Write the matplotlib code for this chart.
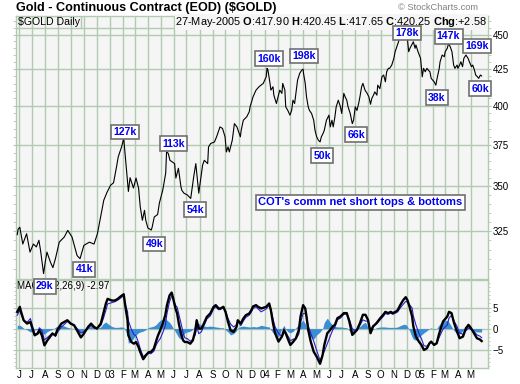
import numpy as np
import pandas as pd
import matplotlib
matplotlib.use('Agg')
import matplotlib.pyplot as plt
import matplotlib.dates as mdates
from matplotlib.ticker import FixedLocator, NullFormatter, FuncFormatter

plt.rcParams['font.family'] = ['Liberation Sans', 'DejaVu Sans']
plt.rcParams['mathtext.fontset'] = 'custom'
plt.rcParams['mathtext.rm'] = 'Liberation Sans'
plt.rcParams['mathtext.bf'] = 'Liberation Sans:bold'

# gold close
price_dates = [
    '2002-05-28', '2002-05-30', '2002-06-03', '2002-06-10', '2002-06-19', '2002-06-27',
    '2002-07-05', '2002-07-12', '2002-07-18', '2002-07-22', '2002-07-29', '2002-08-02',
    '2002-08-06', '2002-08-14', '2002-08-20', '2002-08-26', '2002-09-04', '2002-09-16',
    '2002-09-24', '2002-10-04', '2002-10-16', '2002-10-23', '2002-11-01', '2002-11-14',
    '2002-11-25', '2002-12-03', '2002-12-12', '2002-12-18', '2002-12-26', '2003-01-03',
    '2003-01-10', '2003-01-17', '2003-01-21', '2003-01-24', '2003-01-29', '2003-02-03',
    '2003-02-07', '2003-02-11', '2003-02-14', '2003-02-18', '2003-02-26', '2003-03-04',
    '2003-03-10', '2003-03-14', '2003-03-19', '2003-03-24', '2003-03-27', '2003-04-01',
    '2003-04-09', '2003-04-11', '2003-04-16', '2003-04-24', '2003-04-28', '2003-05-06',
    '2003-05-09', '2003-05-13', '2003-05-15', '2003-05-19', '2003-05-23', '2003-06-03',
    '2003-06-06', '2003-06-12', '2003-06-18', '2003-06-20', '2003-06-25', '2003-07-03',
    '2003-07-11', '2003-07-18', '2003-07-23', '2003-07-30', '2003-08-08', '2003-08-12',
    '2003-08-20', '2003-08-22', '2003-08-27', '2003-09-05', '2003-09-10', '2003-09-18',
    '2003-09-24', '2003-09-30', '2003-10-03', '2003-10-07', '2003-10-10', '2003-10-17',
    '2003-10-22', '2003-10-28', '2003-11-05', '2003-11-07', '2003-11-12', '2003-11-20',
    '2003-11-26', '2003-11-28', '2003-12-05', '2003-12-12', '2003-12-19', '2003-12-29',
    '2004-01-05', '2004-01-07', '2004-01-09', '2004-01-14', '2004-01-16', '2004-01-21',
    '2004-01-23', '2004-01-29', '2004-02-06', '2004-02-11', '2004-02-13', '2004-02-18',
    '2004-02-20', '2004-02-25', '2004-03-01', '2004-03-05', '2004-03-08', '2004-03-12',
    '2004-03-19', '2004-03-24', '2004-03-29', '2004-04-01', '2004-04-02', '2004-04-06',
    '2004-04-09', '2004-04-13', '2004-04-16', '2004-04-21', '2004-04-26', '2004-04-29',
    '2004-05-03', '2004-05-07', '2004-05-11', '2004-05-14', '2004-05-18', '2004-05-21',
    '2004-05-26', '2004-06-01', '2004-06-04', '2004-06-08', '2004-06-11', '2004-06-15',
    '2004-06-18', '2004-06-23', '2004-06-28', '2004-07-01', '2004-07-06', '2004-07-09',
    '2004-07-13', '2004-07-16', '2004-07-21', '2004-07-26', '2004-07-29', '2004-08-02',
    '2004-08-06', '2004-08-10', '2004-08-13', '2004-08-17', '2004-08-20', '2004-08-25',
    '2004-08-30', '2004-09-03', '2004-09-07', '2004-09-10', '2004-09-14', '2004-09-17',
    '2004-09-22', '2004-09-24', '2004-09-29', '2004-10-04', '2004-10-08', '2004-10-12',
    '2004-10-15', '2004-10-19', '2004-10-22', '2004-10-27', '2004-11-01', '2004-11-04',
    '2004-11-08', '2004-11-12', '2004-11-16', '2004-11-19', '2004-11-24', '2004-12-02',
    '2004-12-06', '2004-12-09', '2004-12-13', '2004-12-17', '2004-12-21', '2004-12-23',
    '2004-12-28', '2005-01-03', '2005-01-07', '2005-01-10', '2005-01-14', '2005-01-18',
    '2005-01-21', '2005-01-25', '2005-01-28', '2005-02-04', '2005-02-08', '2005-02-11',
    '2005-02-16', '2005-02-18', '2005-02-23', '2005-02-28', '2005-03-02', '2005-03-07',
    '2005-03-10', '2005-03-14', '2005-03-18', '2005-03-22', '2005-03-25', '2005-03-30',
    '2005-04-01', '2005-04-05', '2005-04-08', '2005-04-12', '2005-04-15', '2005-04-20',
    '2005-04-25', '2005-04-28', '2005-05-03', '2005-05-06', '2005-05-10', '2005-05-13',
    '2005-05-17', '2005-05-20', '2005-05-24', '2005-05-27']
price_close = [
    323.0, 326.0, 327.0, 318.0, 323.5, 313.8,
    318.0, 316.5, 320.0, 314.5, 302.8, 308.7,
    313.8, 308.7, 305.8, 310.4, 319.0, 321.8,
    325.3, 321.8, 312.0, 310.4, 317.3, 319.0,
    318.0, 323.5, 334.5, 342.0, 346.7, 350.6,
    352.0, 361.4, 367.4, 369.8, 373.6, 379.0,
    367.4, 355.5, 347.0, 355.0, 349.0, 354.8,
    349.0, 338.2, 330.8, 336.3, 330.8, 326.6,
    325.5, 327.0, 332.6, 334.0, 340.3, 347.7,
    352.0, 357.7, 370.5, 369.6, 365.4, 363.4,
    354.8, 360.6, 349.6, 347.7, 346.0, 345.0,
    343.0, 355.5, 363.4, 346.0, 362.5, 365.4,
    363.4, 373.6, 375.7, 376.7, 379.9, 386.2,
    385.2, 379.9, 370.5, 373.6, 370.5, 377.8,
    388.3, 386.2, 379.9, 384.1, 390.5, 392.7,
    396.0, 399.3, 406.0, 410.5, 412.8, 415.1,
    419.7, 425.6, 424.4, 415.1, 410.5, 412.8,
    407.1, 401.5, 410.5, 408.3, 415.1, 410.5,
    399.3, 396.9, 393.8, 396.9, 403.7, 401.5,
    417.4, 422.1, 424.4, 425.0, 422.1, 415.1,
    406.0, 399.3, 396.9, 394.9, 390.5, 384.1,
    379.9, 377.8, 376.7, 379.9, 382.0, 384.1,
    390.5, 393.8, 386.2, 390.5, 386.2, 392.7,
    399.3, 403.7, 399.3, 394.9, 408.3, 406.0,
    403.7, 399.3, 395.0, 388.3, 390.5, 399.3,
    396.9, 401.5, 406.0, 412.8, 415.1, 410.5,
    408.3, 406.0, 401.0, 404.9, 407.1, 409.3,
    407.1, 413.9, 411.5, 419.7, 420.9, 416.2,
    423.2, 425.6, 425.6, 427.9, 432.7, 437.5,
    441.1, 444.8, 449.8, 454.8, 452.6, 449.8,
    437.5, 440.0, 442.4, 444.8, 440.0, 442.4,
    437.5, 432.7, 419.7, 425.6, 423.2, 425.6,
    424.4, 423.2, 418.6, 416.2, 413.9, 418.6,
    425.6, 430.3, 435.1, 433.9, 437.5, 440.0,
    443.6, 441.1, 437.5, 427.9, 425.6, 427.9,
    425.6, 427.9, 430.3, 426.8, 432.7, 435.1,
    432.7, 430.3, 426.8, 427.9, 424.4, 420.9,
    419.7, 418.6, 420.9, 420.25]

# MACD(12,26,9) line and histogram
macd_dates = [
    '2002-05-28', '2002-06-03', '2002-06-06', '2002-06-12', '2002-06-20', '2002-06-28',
    '2002-07-04', '2002-07-08', '2002-07-15', '2002-07-19', '2002-07-25', '2002-07-31',
    '2002-08-07', '2002-08-13', '2002-08-19', '2002-08-26', '2002-08-30', '2002-09-09',
    '2002-09-16', '2002-09-23', '2002-10-01', '2002-10-09', '2002-10-18', '2002-10-25',
    '2002-11-01', '2002-11-11', '2002-11-18', '2002-11-25', '2002-12-02', '2002-12-11',
    '2002-12-17', '2002-12-23', '2002-12-27', '2003-01-06', '2003-01-13', '2003-01-20',
    '2003-01-27', '2003-02-03', '2003-02-07', '2003-02-12', '2003-02-14', '2003-02-21',
    '2003-02-27', '2003-03-04', '2003-03-10', '2003-03-14', '2003-03-21', '2003-03-28',
    '2003-04-03', '2003-04-08', '2003-04-15', '2003-04-21', '2003-04-25', '2003-04-30',
    '2003-05-06', '2003-05-12', '2003-05-16', '2003-05-22', '2003-05-27', '2003-05-30',
    '2003-06-05', '2003-06-09', '2003-06-13', '2003-06-18', '2003-06-23', '2003-06-27',
    '2003-07-03', '2003-07-10', '2003-07-16', '2003-07-22', '2003-07-25', '2003-07-30',
    '2003-08-05', '2003-08-11', '2003-08-18', '2003-08-26', '2003-09-03', '2003-09-08',
    '2003-09-15', '2003-09-19', '2003-09-26', '2003-10-01', '2003-10-07', '2003-10-13',
    '2003-10-20', '2003-10-27', '2003-10-30', '2003-11-06', '2003-11-12', '2003-11-18',
    '2003-11-26', '2003-12-01', '2003-12-05', '2003-12-12', '2003-12-17', '2003-12-24',
    '2004-01-05', '2004-01-12', '2004-01-16', '2004-01-21', '2004-01-26', '2004-02-03',
    '2004-02-11', '2004-02-16', '2004-02-20', '2004-02-26', '2004-03-02', '2004-03-09',
    '2004-03-15', '2004-03-22', '2004-03-26', '2004-04-01', '2004-04-06', '2004-04-09',
    '2004-04-13', '2004-04-19', '2004-04-26', '2004-05-03', '2004-05-11', '2004-05-17',
    '2004-05-21', '2004-05-28', '2004-06-04', '2004-06-10', '2004-06-15', '2004-06-21',
    '2004-06-28', '2004-07-06', '2004-07-13', '2004-07-19', '2004-07-26', '2004-07-30',
    '2004-08-06', '2004-08-13', '2004-08-20', '2004-08-26', '2004-09-01', '2004-09-07',
    '2004-09-13', '2004-09-21', '2004-09-30', '2004-10-07', '2004-10-12', '2004-10-18',
    '2004-10-25', '2004-10-29', '2004-11-05', '2004-11-10', '2004-11-16', '2004-11-23',
    '2004-11-29', '2004-12-03', '2004-12-08', '2004-12-14', '2004-12-17', '2004-12-23',
    '2004-12-30', '2005-01-05', '2005-01-11', '2005-01-18', '2005-01-24', '2005-01-28',
    '2005-02-04', '2005-02-10', '2005-02-15', '2005-02-21', '2005-02-25', '2005-03-07',
    '2005-03-11', '2005-03-17', '2005-03-23', '2005-03-30', '2005-04-05', '2005-04-13',
    '2005-04-20', '2005-04-26', '2005-05-02', '2005-05-09', '2005-05-16', '2005-05-23',
    '2005-05-27']
macd_line = [
    4.0, 5.2, 4.0, 2.0, 1.2, 1.6,
    -0.4, -1.6, -1.2, -0.4, -1.6, -4.0,
    -2.8, -2.0, -1.2, -1.6, -0.4, 1.2,
    1.6, 2.0, 1.2, 0.8, -0.8, -2.1,
    -1.2, 0.4, 1.2, 0.4, 0.0, 1.2,
    3.6, 6.0, 7.1, 6.7, 6.7, 7.1,
    7.7, 8.2, 5.2, 2.0, -1.6, -3.2,
    -3.6, -3.2, -4.4, -5.6, -7.3, -6.3,
    -5.6, -5.6, -4.8, -2.8, -1.6, -0.4,
    1.2, 3.2, 5.6, 7.9, 8.6, 7.5,
    4.8, 3.6, 1.2, -1.2, -2.8, -3.2,
    -3.2, -3.6, -2.8, -0.4, 2.0, 0.0,
    0.0, 1.2, 2.8, 3.6, 5.2, 5.6,
    4.8, 4.8, 5.2, 4.0, 1.6, -0.4,
    -0.8, 0.4, 2.0, 1.2, 2.4, 3.2,
    3.6, 4.4, 5.3, 5.6, 5.2, 4.8,
    5.2, 6.0, 4.4, 1.3, -1.1, -3.1,
    -1.9, -0.3, -1.1, -2.7, -3.9, -3.1,
    -2.3, -0.3, 2.9, 5.6, 4.8, 2.9,
    -0.3, -3.1, -5.5, -6.7, -8.4, -6.3,
    -3.9, -1.1, -0.3, 0.5, 0.9, 2.5,
    2.9, 3.7, 3.7, 1.7, -1.5, -1.1,
    -0.3, 1.3, 3.3, 3.3, 2.1, -1.1,
    0.5, 1.3, 2.5, 3.3, 4.0, 3.7,
    4.0, 3.7, 4.0, 4.4, 5.6, 6.8,
    7.5, 6.8, 5.2, 2.9, 0.5, -1.9,
    -3.1, -3.9, -5.1, -4.7, -3.5, -3.1,
    -3.9, -3.5, -1.5, 0.5, 1.7, 2.9,
    4.0, 3.7, 1.3, -0.7, -2.3, -1.9,
    0.1, 0.9, 0.1, -1.1, -2.3, -2.6,
    -2.97]
macd_hist = [
    0.8, 0.8, 0.6, 0.1, -0.3, -0.8,
    -0.6, -0.3, -0.2, -0.6, -1.2, -1.3,
    -0.7, -0.4, -0.2, 0.3, 0.6, 0.8,
    0.6, 0.3, 0.1, 0.0, -0.6, -1.0,
    -0.5, 0.3, 0.5, 0.3, 0.0, 0.4,
    1.2, 1.6, 1.2, 0.5, 0.3, 0.3,
    0.4, 0.3, -0.5, -2.0, -3.5, -3.0,
    -2.2, -1.5, -1.0, -0.8, -0.6, -0.2,
    0.3, 0.4, 0.6, 1.0, 1.5, 2.0,
    2.2, 2.5, 2.0, 1.5, 0.8, 0.2,
    -0.8, -1.5, -2.2, -2.5, -1.8, -1.0,
    -0.8, -0.6, -0.2, 1.0, 1.5, 1.2,
    0.8, 0.6, 0.5, 0.6, 0.5, 0.4,
    0.3, 0.2, 0.2, -0.3, -0.8, -1.5,
    -1.2, -0.5, 0.2, 0.5, 0.6, 0.5,
    0.4, 0.4, 0.5, 0.4, 0.5, 0.8,
    0.5, 0.4, -0.3, -1.0, -1.5, -2.0,
    0.0, 0.8, -0.2, -0.8, -1.0, -0.6,
    0.2, 1.0, 1.5, 2.0, 1.2, 0.0,
    -1.0, -2.0, -2.5, -1.5, -0.8, 0.0,
    1.5, 2.5, 1.5, 0.8, 0.5, 0.4,
    0.4, 0.3, 0.2, -0.5, -1.5, -0.8,
    0.2, 0.5, 1.2, 1.5, 0.3, -0.8,
    -0.2, 0.2, 0.4, 0.4, 0.4, 0.3,
    0.3, 0.3, 0.3, 0.4, 0.7, 1.0,
    1.0, 0.5, -0.5, -2.0, -2.5, -2.8,
    -2.0, -1.5, -1.0, -0.5, 0.0, 0.2,
    -0.2, 0.0, 0.8, 1.5, 1.8, 2.0,
    1.5, 0.5, -0.5, -1.2, -1.3, -0.5,
    0.6, 0.8, 0.3, -0.5, -0.8, -0.8,
    -0.8]

# COT commercial net short readings at the turning points
cot_labels = ['29k', '41k', '127k', '49k', '113k', '54k', '160k', '198k',
              '50k', '66k', '178k', '38k', '147k', '169k', '60k']
cot_dates = ['2002-08-01', '2002-11-02', '2003-02-05', '2003-04-16', '2003-06-01',
             '2003-07-22', '2004-01-11', '2004-04-03', '2004-05-16', '2004-08-04',
             '2004-12-02', '2005-02-10', '2005-03-10', '2005-05-16', '2005-05-23']
cot_ypos = [296.4, 304.9, 382.9, 318.1, 375.6, 336.6, 432.5, 434.4,
            368.2, 381.2, 451.3, 405.4, 448.7, 441.6, 411.5]

price_t = pd.to_datetime(price_dates)
macd_t = pd.to_datetime(macd_dates)
macd_arr = np.array(macd_line)
hist_arr = np.array(macd_hist)
signal_arr = macd_arr - hist_arr   # histogram = MACD - signal

grid_c = '#b2c9b2'
bg_c = '#f5f5f5'
W, H = 520.0, 384.0

# month gridlines only where there is data (Jun 2002 .. May 2005)
month_starts = mdates.date2num(pd.date_range('2002-06-01', '2005-05-01', freq='MS'))

fig = plt.figure(figsize=(5.2, 3.84), dpi=100)
ax = fig.add_axes([16 / W, 1 - 279 / H, 472 / W, 263 / H])
ax2 = fig.add_axes([16 / W, 1 - 368 / H, 472 / W, 88 / H], sharex=ax)
ax.set_zorder(3)

for a in (ax, ax2):
    a.set_facecolor(bg_c)
    for s in a.spines.values():
        s.set_color(grid_c)
        s.set_linewidth(1.0)
    a.xaxis.set_major_locator(FixedLocator(month_starts))
    a.grid(True, color=grid_c, linewidth=1.0)
    a.yaxis.tick_right()
    a.tick_params(axis='both', which='both', colors=grid_c, labelcolor='black',
                  labelsize=7, length=2, pad=1.5)

# price panel
ax.plot(price_t, price_close, color='black', linewidth=0.8, zorder=3)
ax.set_yscale('log')
ax.set_ylim(300.1, 464.2)
ax.yaxis.set_major_locator(FixedLocator([325, 350, 375, 400, 425, 450]))
ax.yaxis.set_major_formatter(FuncFormatter(lambda v, p: '%d' % v))
ax.yaxis.set_minor_locator(FixedLocator(np.arange(305, 465, 5)))
ax.yaxis.set_minor_formatter(NullFormatter())
ax.tick_params(axis='y', which='both', left=True, right=True)
ax.tick_params(axis='x', which='both', bottom=False, labelbottom=False)
ax.set_xlim(pd.Timestamp('2002-05-25'), pd.Timestamp('2005-06-11'))

# header strip inside the price panel
hy = 1 - 12 / 263.0
ax.plot([0, 1], [hy, hy], transform=ax.transAxes, color=grid_c, linewidth=1.0, zorder=1)
ax.plot([65 / 472.0, 65 / 472.0], [hy, 1], transform=ax.transAxes,
        color=grid_c, linewidth=1.0, zorder=1)
ax.text(0.004, 1 - 6 / 263.0, '$GOLD Daily', transform=ax.transAxes,
        fontsize=7.6, va='center', ha='left', zorder=4)
ax.text(0.998, 1 - 6 / 263.0,
        r'27-May-2005 $\mathbf{O}$:417.90 $\mathbf{H}$:420.45 $\mathbf{L}$:417.65 '
        r'$\mathbf{C}$:420.25 $\mathbf{Chg}$:+2.58',
        transform=ax.transAxes, fontsize=7.9, va='center', ha='right', zorder=4,
        bbox=dict(facecolor=bg_c, edgecolor='none', pad=0.5))

# COT boxes
for lab, d, yv in zip(cot_labels, cot_dates, cot_ypos):
    ax.text(pd.Timestamp(d), yv, lab, fontsize=7.6, fontweight='bold', color='#0000ee',
            ha='center', va='center', zorder=6, clip_on=False,
            bbox=dict(boxstyle='square,pad=0.22', facecolor='white',
                      edgecolor='#707070', linewidth=1.2))
ax.text(pd.Timestamp('2004-08-14'), 340.8, "COT's comm net short tops & bottoms",
        fontsize=8, fontweight='bold', color='#0000ee', ha='center', va='center',
        zorder=6, bbox=dict(boxstyle='square,pad=0.2', facecolor='white',
                            edgecolor='#707070', linewidth=1.2))

# MACD panel
ax2.fill_between(macd_t, hist_arr, 0, color='#3a8ed4', linewidth=0, zorder=2)
ax2.plot(macd_t, signal_arr, color='#2a1fd0', linewidth=0.8, zorder=3)
ax2.plot(macd_t, macd_arr, color='black', linewidth=1.7, zorder=4)
ax2.set_ylim(-9.4, 11.6)
ax2.set_yticks([-5, 0, 5])
ax2.yaxis.set_minor_locator(FixedLocator(np.arange(-9, 12, 1)))
ax2.yaxis.set_minor_formatter(NullFormatter())
ax2.tick_params(axis='y', which='both', left=True, right=True)
ax2.tick_params(axis='y', which='minor', length=1.5)


def month_label(x, pos):
    d = mdates.num2date(x)
    return d.strftime('%y') if d.month == 1 else d.strftime('%b')[0]


ax2.xaxis.set_major_formatter(FuncFormatter(month_label))
ax2.tick_params(axis='x', labelsize=7, length=0, pad=1.5)
ax2.text(0.003, 1 - 6 / 88.0, 'MACD(12,26,9) -2.97', transform=ax2.transAxes,
         fontsize=7, va='center', ha='left', zorder=5)

fig.text(16.5 / W, 1 - 8 / H, 'Gold - Continuous Contract (EOD) ($GOLD)',
         fontsize=9.1, fontweight='bold', va='center', ha='left')
fig.text(478 / W, 1 - 8 / H, '\u00a9 StockCharts.com', fontsize=6.7,
         color='#808080', va='center', ha='right')

fig.savefig('out.png', dpi=100, facecolor='white')
